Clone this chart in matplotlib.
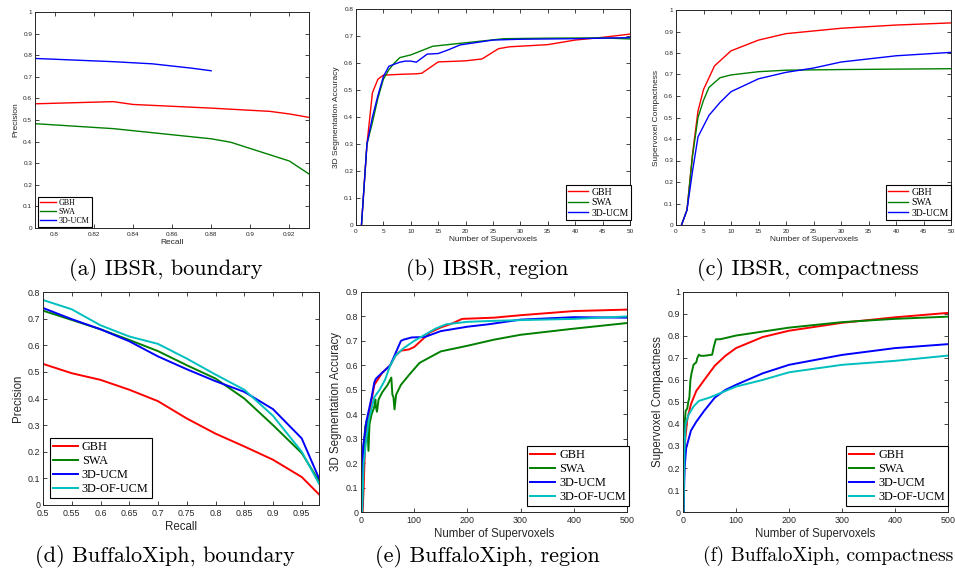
import numpy as np
import matplotlib
matplotlib.use("Agg")
from matplotlib import pyplot as plt
from matplotlib.ticker import FormatStrFormatter

# (a) IBSR, boundary
a_gbh_x = [0.79, 0.83, 0.84, 0.88, 0.91, 0.92, 0.93]
a_gbh_y = [0.575, 0.585, 0.572, 0.555, 0.54, 0.528, 0.512]
a_swa_x = [0.79, 0.83, 0.88, 0.89, 0.92, 0.93]
a_swa_y = [0.483, 0.46, 0.413, 0.397, 0.31, 0.25]
a_ucm_x = [0.79, 0.83, 0.85, 0.87, 0.88]
a_ucm_y = [0.785, 0.77, 0.76, 0.74, 0.728]

# (b) IBSR, region
b_gbh_x = [1, 2, 3, 4, 5, 6, 8, 11, 12, 15, 20, 23, 26, 28, 35, 40, 45, 50]
b_gbh_y = [0, 0.3, 0.49, 0.54, 0.555, 0.556, 0.558, 0.56, 0.562, 0.604, 0.608,
           0.615, 0.653, 0.66, 0.668, 0.685, 0.695, 0.707]
b_swa_x = [1, 2, 3, 4, 5, 6, 7, 8, 10, 14, 20, 27, 35, 45, 50]
b_swa_y = [0, 0.3, 0.38, 0.47, 0.54, 0.575, 0.6, 0.62, 0.63, 0.662, 0.675,
           0.69, 0.692, 0.693, 0.689]
b_ucm_x = [1, 2, 3, 4, 5, 6, 8, 9, 10, 11, 13, 15, 17, 19, 25, 30, 40, 50]
b_ucm_y = [0, 0.3, 0.4, 0.48, 0.55, 0.588, 0.603, 0.607, 0.607, 0.603, 0.633,
           0.635, 0.65, 0.667, 0.685, 0.688, 0.69, 0.694]

# (c) IBSR, compactness
c_gbh_x = [1, 2, 3, 4, 5, 7, 10, 15, 20, 30, 40, 50]
c_gbh_y = [0, 0.07, 0.33, 0.53, 0.63, 0.74, 0.81, 0.86, 0.89, 0.915, 0.93, 0.94]
c_swa_x = [1, 2, 3, 4, 5, 6, 8, 10, 15, 20, 30, 50]
c_swa_y = [0, 0.07, 0.32, 0.5, 0.58, 0.64, 0.685, 0.698, 0.713, 0.72, 0.723, 0.727]
c_ucm_x = [1, 2, 3, 4, 5, 6, 8, 10, 15, 20, 25, 30, 40, 50]
c_ucm_y = [0, 0.07, 0.25, 0.41, 0.46, 0.51, 0.57, 0.62, 0.68, 0.71, 0.73,
           0.758, 0.787, 0.803]

# (d) BuffaloXiph, boundary
d_x = [0.5, 0.55, 0.6, 0.65, 0.7, 0.75, 0.8, 0.85, 0.9, 0.95, 0.98]
d_gbh = [0.53, 0.495, 0.47, 0.433, 0.39, 0.325, 0.268, 0.22, 0.17, 0.105, 0.04]
d_swa = [0.73, 0.695, 0.66, 0.62, 0.578, 0.525, 0.475, 0.4, 0.3, 0.195, 0.09]
d_ucm = [0.74, 0.698, 0.66, 0.615, 0.558, 0.51, 0.465, 0.425, 0.36, 0.25, 0.1]
d_of = [0.77, 0.735, 0.675, 0.633, 0.605, 0.55, 0.49, 0.433, 0.335, 0.2, 0.08]

# (e) BuffaloXiph, region
e_gbh_x = [3, 5, 8, 15, 25, 40, 55, 65, 75, 90, 100, 110, 130, 150, 170, 190,
           250, 300, 400, 500]
e_gbh_y = [0, 0.1, 0.3, 0.4, 0.52, 0.57, 0.6, 0.64, 0.66, 0.665, 0.675, 0.695,
           0.735, 0.755, 0.77, 0.79, 0.795, 0.805, 0.822, 0.828]
e_swa_x = [2, 3, 5, 8, 12, 14, 16, 20, 25, 27, 28, 30, 33, 40, 50, 57, 59, 61,
           63, 66, 75, 90, 110, 150, 200, 250, 300, 400, 500]
e_swa_y = [0, 0.2, 0.26, 0.35, 0.38, 0.25, 0.36, 0.4, 0.43, 0.46, 0.43, 0.41,
           0.46, 0.49, 0.52, 0.55, 0.48, 0.47, 0.42, 0.48, 0.52, 0.56, 0.61,
           0.657, 0.68, 0.705, 0.725, 0.75, 0.773]
e_ucm_x = [2, 4, 6, 10, 15, 20, 25, 28, 35, 45, 55, 65, 75, 80, 95, 120, 150,
           200, 240, 300, 400, 500]
e_ucm_y = [0, 0.27, 0.3, 0.37, 0.42, 0.47, 0.53, 0.545, 0.56, 0.58, 0.6, 0.65,
           0.7, 0.705, 0.714, 0.716, 0.74, 0.758, 0.768, 0.787, 0.797, 0.795]
e_of_x = [2, 5, 10, 15, 25, 35, 45, 55, 65, 80, 100, 120, 140, 160, 200, 250,
          300, 400, 500]
e_of_y = [0, 0.2, 0.3, 0.38, 0.47, 0.5, 0.54, 0.6, 0.64, 0.67, 0.7, 0.725,
          0.75, 0.768, 0.778, 0.782, 0.785, 0.79, 0.8]

# (f) BuffaloXiph, compactness
f_gbh_x = [1, 3, 8, 15, 25, 40, 60, 80, 100, 150, 200, 300, 400, 500]
f_gbh_y = [0, 0.3, 0.42, 0.49, 0.55, 0.6, 0.665, 0.71, 0.745, 0.795, 0.824,
           0.86, 0.885, 0.905]
f_swa_x = [1, 3, 5, 8, 10, 12, 14, 16, 20, 25, 27, 30, 33, 40, 55, 58, 62, 70,
           100, 200, 300, 400, 500]
f_swa_y = [0, 0.4, 0.46, 0.47, 0.5, 0.52, 0.6, 0.63, 0.67, 0.68, 0.7, 0.715,
           0.71, 0.71, 0.715, 0.75, 0.785, 0.785, 0.802, 0.838, 0.863, 0.878,
           0.888]
f_ucm_x = [1, 3, 6, 15, 25, 40, 60, 80, 100, 150, 200, 300, 400, 500]
f_ucm_y = [0, 0.2, 0.29, 0.37, 0.41, 0.46, 0.52, 0.555, 0.578, 0.63, 0.669,
           0.714, 0.745, 0.763]
f_of_x = [1, 3, 5, 10, 20, 30, 50, 70, 100, 150, 200, 300, 400, 500]
f_of_y = [0, 0.3, 0.4, 0.44, 0.48, 0.505, 0.52, 0.54, 0.57, 0.6, 0.635, 0.669,
          0.687, 0.711]

labels3 = ["GBH", "SWA", "3D-UCM"]
labels4 = ["GBH", "SWA", "3D-UCM", "3D-OF-UCM"]
captions = ["(a) IBSR, boundary", "(b) IBSR, region", "(c) IBSR, compactness",
            "(d) BuffaloXiph, boundary", "(e) BuffaloXiph, region",
            "(f) BuffaloXiph, compactness"]

RED = "#ff0000"
GREEN = "#008000"
BLUE = "#0000ff"
CYAN = "#00bfbf"
GRAY = "#262626"

plt.rcParams["font.family"] = ["Liberation Sans", "DejaVu Sans"]

W, H = 955, 577
fig = plt.figure(figsize=(W / 100, H / 100), dpi=100)


def box(l, r, t, b):
    return [l / W, 1 - b / H, (r - l) / W, (b - t) / H]


def style(ax, tick_fs, xlim, ylim, xticks, yticks):
    ax.set_xlim(*xlim)
    ax.set_ylim(*ylim)
    ax.set_xticks(xticks)
    ax.set_yticks(yticks)
    ax.xaxis.set_major_formatter(FormatStrFormatter("%g"))
    ax.yaxis.set_major_formatter(FormatStrFormatter("%g"))
    ax.tick_params(direction="in", top=True, right=True, length=3, width=0.6,
                   labelsize=tick_fs, colors=GRAY, pad=2)
    ax.tick_params(axis="x", pad=3)
    for s in ax.spines.values():
        s.set_color(GRAY)
        s.set_linewidth(0.7)


def legend(ax, labels, fs, loc, anchor):
    leg = ax.legend(labels, loc=loc, bbox_to_anchor=(anchor[0] / W, 1 - anchor[1] / H),
                    bbox_transform=fig.transFigure,
                    prop={"family": "Liberation Serif", "size": fs},
                    fancybox=False, framealpha=1, edgecolor="black",
                    borderpad=0.25, labelspacing=0.15, handlelength=2.0,
                    handletextpad=0.35, borderaxespad=0)
    leg.get_frame().set_linewidth(0.8)


top_tick, top_lab, top_lw = 4.6, 6.0, 1.0
bot_tick, bot_lab, bot_lw = 6.4, 8.3, 1.4

# (a)
ax = fig.add_axes(box(35, 309, 12, 228))
ax.plot(a_gbh_x, a_gbh_y, color=RED, lw=top_lw)
ax.plot(a_swa_x, a_swa_y, color=GREEN, lw=top_lw)
ax.plot(a_ucm_x, a_ucm_y, color=BLUE, lw=top_lw)
style(ax, top_tick, (0.79, 0.93), (0, 1), np.arange(0.8, 0.921, 0.02), np.arange(0, 1.01, 0.1))
ax.set_xlabel("Recall", fontsize=top_lab, color=GRAY, labelpad=1)
ax.set_ylabel("Precision", fontsize=top_lab, color=GRAY, labelpad=3)
legend(ax, labels3, 5.8, "lower left", (38, 227))

# (b)
ax = fig.add_axes(box(356, 630, 9, 225))
ax.plot(b_gbh_x, b_gbh_y, color=RED, lw=top_lw)
ax.plot(b_swa_x, b_swa_y, color=GREEN, lw=top_lw)
ax.plot(b_ucm_x, b_ucm_y, color=BLUE, lw=top_lw)
style(ax, top_tick, (0, 50), (0, 0.8), np.arange(0, 51, 5), np.arange(0, 0.81, 0.1))
ax.set_xlabel("Number of Supervoxels", fontsize=top_lab, color=GRAY, labelpad=1)
ax.set_ylabel("3D Segmentation Accuracy", fontsize=top_lab, color=GRAY, labelpad=3)
legend(ax, labels3, 7, "lower right", (631, 220))

# (c)
ax = fig.add_axes(box(676, 951, 10, 225))
ax.plot(c_gbh_x, c_gbh_y, color=RED, lw=top_lw)
ax.plot(c_swa_x, c_swa_y, color=GREEN, lw=top_lw)
ax.plot(c_ucm_x, c_ucm_y, color=BLUE, lw=top_lw)
style(ax, top_tick, (0, 50), (0, 1), np.arange(0, 51, 5), np.arange(0, 1.01, 0.1))
ax.set_xlabel("Number of Supervoxels", fontsize=top_lab, color=GRAY, labelpad=1)
ax.set_ylabel("Supervoxel Compactness", fontsize=top_lab, color=GRAY, labelpad=3)
legend(ax, labels3, 7, "lower right", (951, 220))

# (d)
ax = fig.add_axes(box(43, 319, 292, 505))
ax.plot(d_x, d_gbh, color=RED, lw=bot_lw)
ax.plot(d_x, d_swa, color=GREEN, lw=bot_lw)
ax.plot(d_x, d_ucm, color=BLUE, lw=bot_lw)
ax.plot(d_x, d_of, color=CYAN, lw=bot_lw)
style(ax, bot_tick, (0.5, 0.98), (0, 0.8), np.arange(0.5, 0.951, 0.05), np.arange(0, 0.81, 0.1))
ax.set_xlabel("Recall", fontsize=bot_lab, color=GRAY, labelpad=2)
ax.set_ylabel("Precision", fontsize=bot_lab, color=GRAY, labelpad=3)
legend(ax, labels4, 8.8, "lower left", (50, 498))

# (e)
ax = fig.add_axes(box(361, 627, 292, 512))
ax.plot(e_gbh_x, e_gbh_y, color=RED, lw=bot_lw)
ax.plot(e_swa_x, e_swa_y, color=GREEN, lw=bot_lw)
ax.plot(e_ucm_x, e_ucm_y, color=BLUE, lw=bot_lw)
ax.plot(e_of_x, e_of_y, color=CYAN, lw=bot_lw)
style(ax, bot_tick, (0, 500), (0, 0.9), np.arange(0, 501, 100), np.arange(0, 0.91, 0.1))
ax.set_xlabel("Number of Supervoxels", fontsize=bot_lab, color=GRAY, labelpad=2)
ax.set_ylabel("3D Segmentation Accuracy", fontsize=bot_lab, color=GRAY, labelpad=3)
legend(ax, labels4, 8.8, "lower right", (629, 506))

# (f)
ax = fig.add_axes(box(683, 948, 292, 512))
ax.plot(f_gbh_x, f_gbh_y, color=RED, lw=bot_lw)
ax.plot(f_swa_x, f_swa_y, color=GREEN, lw=bot_lw)
ax.plot(f_ucm_x, f_ucm_y, color=BLUE, lw=bot_lw)
ax.plot(f_of_x, f_of_y, color=CYAN, lw=bot_lw)
style(ax, bot_tick, (0, 500), (0, 1), np.arange(0, 501, 100), np.arange(0, 1.01, 0.1))
ax.set_xlabel("Number of Supervoxels", fontsize=bot_lab, color=GRAY, labelpad=2)
ax.set_ylabel("Supervoxel Compactness", fontsize=bot_lab, color=GRAY, labelpad=3)
legend(ax, labels4, 8.8, "lower right", (948, 506))

# captions
cap_pos = [(166, 269), (487, 269), (808, 269), (165, 556), (487, 556), (828, 556)]
cap_size = [16, 16, 16, 16, 16, 14.2]
for text, (cx, cy), fs in zip(captions, cap_pos, cap_size):
    fig.text(cx / W, 1 - cy / H, text, ha="center", va="center",
             family="cmr10", fontsize=fs, color="black")

fig.savefig("out.png", dpi=100)
